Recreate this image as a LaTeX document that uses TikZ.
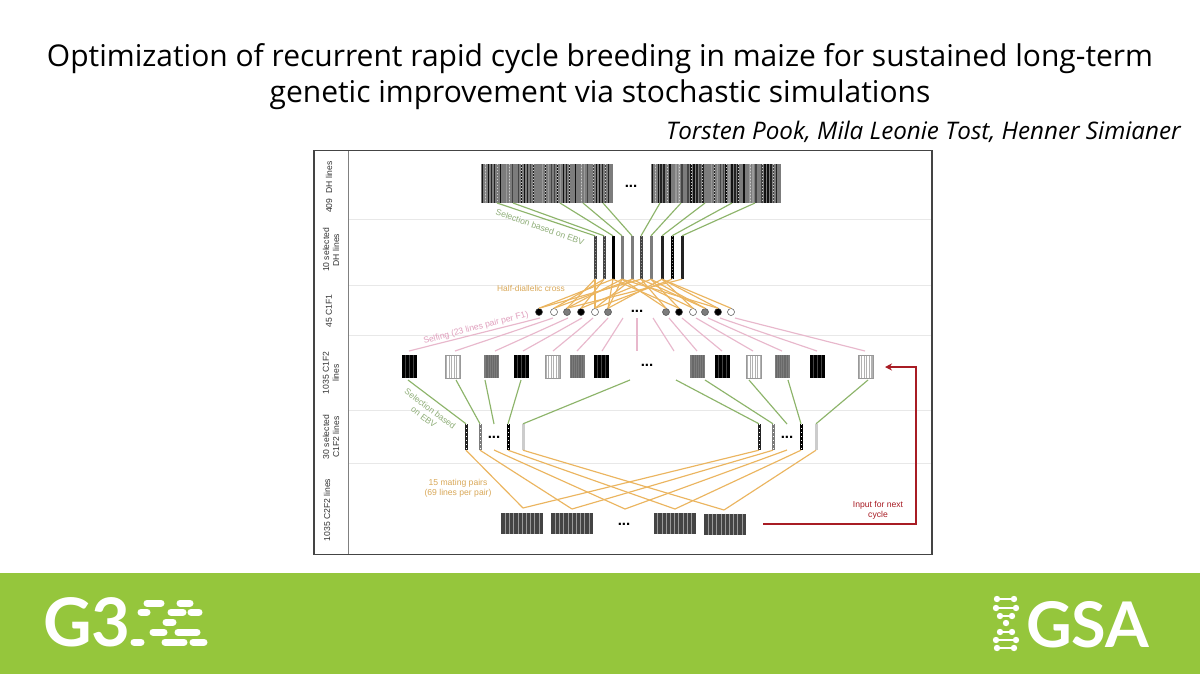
\documentclass[tikz,border=0pt]{standalone}
\usepackage{fontspec}
\setmainfont{Open Sans}
\newfontfamily\figfont{Liberation Sans}
\newfontfamily\logofont{Lato}
\usetikzlibrary{calc,arrows.meta}
\definecolor{bandgreen}{HTML}{95C63C}
\definecolor{selgreen}{HTML}{8DB46A}
\definecolor{labgreen}{HTML}{8FAE78}
\definecolor{crossorange}{HTML}{EBB55F}
\definecolor{laborange}{HTML}{D9A858}
\definecolor{selfpink}{HTML}{E8B8CC}
\definecolor{labpink}{HTML}{E09FBD}
\definecolor{nextred}{HTML}{A81C24}
\definecolor{framegrey}{HTML}{444444}
\definecolor{stripe0}{HTML}{111111}
\definecolor{stripe1}{HTML}{7C7C7C}
\definecolor{stripe2}{HTML}{444444}
\definecolor{stripe3}{HTML}{222222}
\definecolor{stripe4}{HTML}{9A9A9A}
\tikzset{
  stripes/.style n args={4}{rectangle,draw=none,inner sep=0pt,fill=#1,path picture={
    \foreach \k in {1,...,#3}{
      \pgfmathsetmacro\f{\k/(#3+1)}
      \draw[#2,line width=#4]
        ($(path picture bounding box.north west)!\f!(path picture bounding box.north east)$) --
        ($(path picture bounding box.south west)!\f!(path picture bounding box.south east)$);
    }}},
  dhblock/.style={rectangle,draw=none,inner sep=0pt,minimum height=39pt,fill=stripe1,path picture={
    \foreach \k in {0,...,43}{
      \pgfmathsetmacro\f{(\k+0.5)/44}
      \pgfmathtruncatemacro\g{mod(\k*\k+3*\k+int(\k/5),5)}
      \draw[stripe\g,line width=1.7pt]
        ($(path picture bounding box.north west)!\f!(path picture bounding box.north east)$) --
        ($(path picture bounding box.south west)!\f!(path picture bounding box.south east)$);
      \pgfmathtruncatemacro\h{mod(\k,4)}
      \ifnum\h=1
      \draw[black!20,line width=.6pt,dash pattern=on 1pt off 2pt]
        ($(path picture bounding box.north west)!\f!(path picture bounding box.north east)$) --
        ($(path picture bounding box.south west)!\f!(path picture bounding box.south east)$);
      \fi
    }}},
  f2black/.style={stripes={black}{stripe2}{3}{.8pt},minimum width=15pt,minimum height=23pt},
  f2light/.style={stripes={black!30}{white}{5}{1.1pt},draw=black!40,line width=.6pt,minimum width=15pt,minimum height=23pt},
  f2grey/.style={stripes={stripe1}{stripe2!80!white}{7}{.6pt},minimum width=15pt,minimum height=23pt},
  c2block/.style={stripes={stripe2}{stripe4}{9}{.6pt},minimum width=42pt,minimum height=21pt},
  selbar/.style={rectangle,draw=none,inner sep=0pt,minimum width=3pt},
  dotline/.style={black!40,line width=.8pt,dash pattern=on 1pt off 2pt},
  pickdots/.style={white,line width=.8pt,dash pattern=on 1pt off 3pt},
  c1dot/.style={circle,inner sep=0pt,minimum size=7pt,draw=#1,line width=.5pt},
  greenline/.style={selgreen,line width=1.15pt},
  orangeline/.style={crossorange,line width=1.15pt},
  pinkline/.style={selfpink,line width=1.15pt},
  rowline/.style={black!9,line width=.8pt},
  rowlab/.style={font=\figfont\fontsize{8.6}{10}\selectfont,text=black!80,align=center,rotate=90,inner sep=0pt},
  gaplab/.style={font=\bfseries\figfont\fontsize{15}{15}\selectfont,inner sep=0pt},
  pill/.style={white,line width=7pt,line cap=round}
}
\begin{document}
\begin{tikzpicture}[x=1pt,y=-1pt]
\useasboundingbox (0,0) rectangle (1200,675);
\fill [white] (0,0) rectangle (1200,675);
% header
\node (title) [align=center,inner sep=0pt,anchor=north,font=\fontsize{30}{36}\selectfont] at (600,43.5) {Optimization of recurrent rapid cycle breeding in maize for sustained long-term\\genetic improvement via stochastic simulations};
\node (authors) [anchor=base east,inner sep=0pt,font=\itshape\fontsize{24.2}{28}\selectfont] at (1181,139) {Torsten Pook, Mila Leonie Tost, Henner Simianer};
% row lines and frame
\foreach \y in {219,285,335,410,463}
  \draw [rowline] (349,\y) -- (931,\y);
\draw [black!50,line width=1pt] (348,150.5) -- (348,554.5);
\draw [framegrey,line width=1.8pt] (314,150.5) rectangle (932,554.5);
\node (rowa) [rowlab] at (329,187) {409\ \ DH lines};
\node (rowb) [rowlab] at (331,250) {10 selected\\DH lines};
\node (rowc) [rowlab] at (329,311) {45 C1F1};
\node (rowd) [rowlab] at (331,373) {1035 C1F2\\lines};
\node (rowe) [rowlab] at (331,437) {30 selected\\C1F2 lines};
\node (rowf) [rowlab] at (327,510) {1035 C2F2 lines};
% DH lines
\node (dhleft) [dhblock,minimum width=132pt] at (547,183.5) {};
\node (dhright) [dhblock,minimum width=130pt] at (716,183.5) {};
\node (dhgap) [gaplab] at (631,186) {...};
% selected DH lines
\foreach \x/\c [count=\i] in {595/stripe2,604/stripe2,613/black,622/stripe1,632/stripe1,641/stripe2,651/stripe1,662/stripe3,672/black,682/stripe3}
  \node (sel\i) [selbar,minimum height=43pt,fill=\c] at (\x,257.5) {};
\foreach \i in {1,2,6,9}
  \draw [dotline] (sel\i.north) -- (sel\i.south);
\foreach \x [count=\i] in {497,513,560,583,603,660,681,705,732,755}{
  \coordinate (dhout\i) at (\x,203);
  \draw [greenline] (dhout\i) -- (sel\i.north);
}
\node (sellab) [font=\figfont\fontsize{8.6}{10}\selectfont,text=labgreen,rotate=-19,inner sep=0pt] at (540,227) {Selection based on EBV};
% C1F1
\foreach \x/\c [count=\i] in {539/black,554/white,567/stripe1,581/black,595/white,608/stripe1,666/stripe1,679/black,693/white,705/stripe1,718/black,731/white}
  \node (dot\i) [c1dot=black!70,fill=\c] at (\x,312) {};
\node (dotgap) [gaplab] at (637,311) {...};
\foreach \a/\b in {1/3,1/6,2/2,2/5,3/1,3/4,4/2,4/7,5/1,5/5,6/3,6/4,6/8,5/9,3/10,7/4,7/6,8/3,8/7,9/5,9/8,10/6,10/7,11/4,11/8,12/8}
  \draw [orangeline] (dot\a.north) -- (sel\b.south);
\node (crosslab) [font=\figfont\fontsize{8.4}{10}\selectfont,text=laborange,inner sep=0pt] at (531,288) {Half-diallelic cross};
% C1F2
\foreach \x/\c [count=\i] in {409.5/f2black,453/f2light,491.5/f2grey,521.5/f2black,552.5/f2light,577/f2grey,601.5/f2black,697.5/f2grey,722.5/f2black,754/f2light,782/f2grey,817.5/f2black,865.5/f2light}
  \node (ftwo\i) [\c] at (\x,366.5) {};
\node (ftwogap) [gaplab] at (647,365) {...};
\foreach \a/\b/\c/\d in {540/409/a/1,553/455/b/2,568/495/c/3,582/523/d/4,593/553/e/5,608/577/f/6,623/602/g/7,637/637/h/8,653/674/i/9,669/697/j/10,682/722/k/11,696/753/l/12,708/782/m/13,720/817/n/14,735/865/o/15}{
  \coordinate (selftop\d) at (\a,318);
  \coordinate (selfbot\d) at (\b,351);
  \draw [pinkline] (selftop\d) -- (selfbot\d);
}
\node (selflab) [font=\figfont\fontsize{8.6}{10}\selectfont,text=labpink,rotate=14.7,inner sep=0pt] at (476,328) {Selfing (23 lines pair per F1)};
% selected C1F2 lines
\foreach \x/\c [count=\i] in {466/stripe3,480/stripe1,508/black,523/black!20,759/stripe3,773/stripe1,801/black,816/black!20}
  \node (pick\i) [selbar,minimum height=26pt,fill=\c] at (\x,437) {};
\foreach \i in {1,2,3,5,6,7}
  \draw [pickdots] (pick\i.north) -- (pick\i.south);
\node (pickgapl) [gaplab] at (494,437) {...};
\node (pickgapr) [gaplab] at (787,437) {...};
\coordinate (pickinl) at (494,424);
\coordinate (pickinr) at (787,424);
\foreach \a/\b in {408/pick1.north,456/pick2.north,485/pickinl,521/pick3.north,630/pick4.north,676/pick5.north,705/pick6.north,749/pickinr,788/pick7.north,868/pick8.north}{
  \coordinate (ftwoout\a) at (\a,380);
  \draw [greenline] (ftwoout\a) -- (\b);
}
\node (picklab) [font=\figfont\fontsize{8.6}{10.5}\selectfont,text=labgreen,align=center,rotate=-37,inner sep=0pt] at (427,413) {Selection based\\on EBV};
% C2F2
\node (ctwoa) [c2block] at (522,523.5) {};
\node (ctwob) [c2block] at (572,523.5) {};
\node (ctwoc) [c2block] at (674.5,523.5) {};
\node (ctwod) [c2block] at (725,524) {};
\node (ctwogap) [gaplab] at (624,524) {...};
\coordinate (pickoutl) at (494,450);
\coordinate (pickoutr) at (787,450);
\coordinate (peaka) at (523,508);
\coordinate (peakb) at (572,509);
\coordinate (peakc) at (625,509);
\coordinate (peakd) at (675,509);
\coordinate (peake) at (724,510);
\foreach \a/\b in {pick1.south/peaka,pick2.south/peakb,pickoutl/peakc,pick3.south/peakd,pick4.south/peake,pick5.south/peaka,pick6.south/peakb,pickoutr/peakc,pick7.south/peakd,pick8.south/peake}
  \draw [orangeline] (\a) -- (\b);
\node (matelab) [font=\figfont\fontsize{8.6}{10.2}\selectfont,text=laborange,align=center,inner sep=0pt] at (458,488) {15 mating pairs\\(69 lines per pair)};
% feedback
\coordinate (nextout) at (763,524);
\coordinate (nextin) at (885,367);
\draw [nextred,line width=1.2pt,-{Stealth[length=7pt,width=7pt]}] (nextout) -- (916,524) -- (916,367) -- (nextin);
\node (nextlab) [font=\figfont\fontsize{8.6}{10.2}\selectfont,text=nextred,align=center,inner sep=0pt] at (878,510) {Input for next\\cycle};
% footer band
\fill [bandgreen] (0,573) rectangle (1200,674);
\node (gthree) [anchor=base west,inner sep=0pt,text=white,font=\logofont\bfseries\fontsize{67}{67}\selectfont] at (43,646) {G3};
\foreach \y/\a/\b in {603/147/161,603/180/190,612/141/147,612/171/183,612/191/199,622/166/173,632/153/164,632/178/197,642/134/141,642/165/184,642/193/204}
  \draw [pill] (\a,\y) -- (\b,\y);
\node (gsa) [anchor=base west,inner sep=0pt,text=white,font=\logofont\bfseries\fontsize{63}{63}\selectfont] at (1026,647) {GSA};
\foreach \y/\a/\b in {599/997/1014,608/996/1016,616/1000/1012,632/1000/1012,640/996/1016,648/997/1014}{
  \draw [white,line width=1.3pt] (\a,\y) -- (\b,\y);
  \fill [white] (\a,\y) circle (3.2) (\b,\y) circle (3.2);
}
\fill [white] (1006,623) circle (3.2);
\end{tikzpicture}
\end{document}
